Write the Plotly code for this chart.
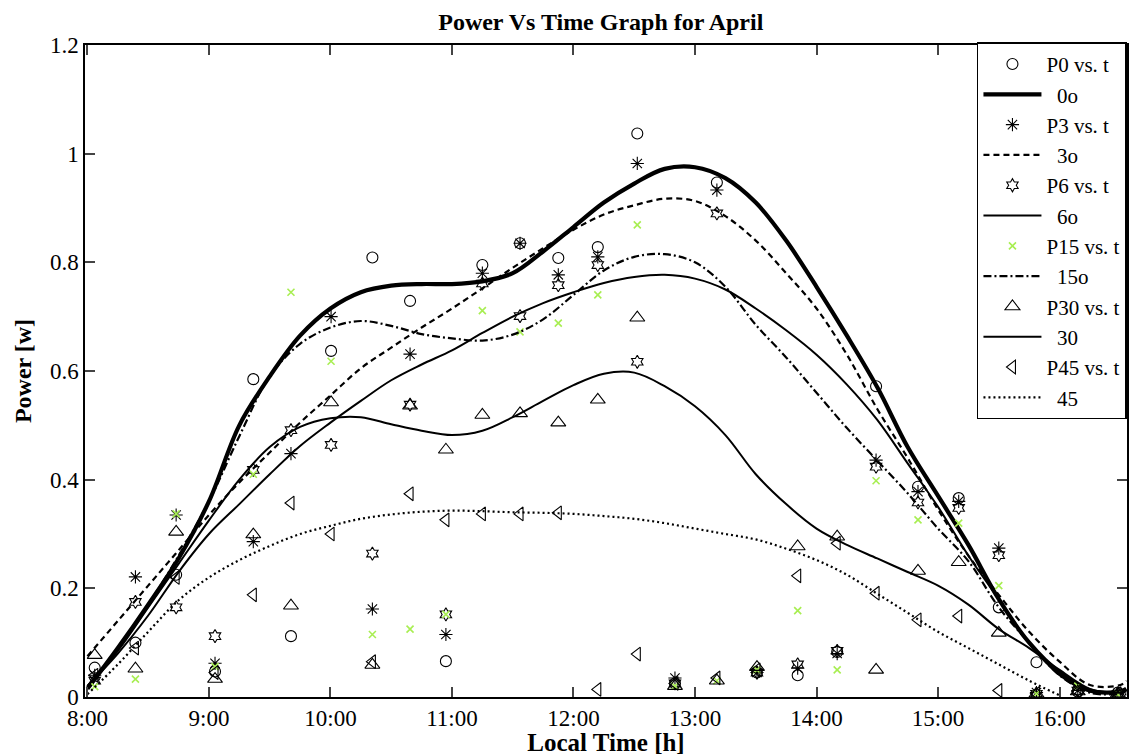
import plotly.graph_objects as go

# ---------------- data ----------------
# measurement times (decimal hours)
t = [8.06, 8.395, 8.73, 9.05, 9.365, 9.675, 10.005, 10.345, 10.655, 10.95,
     11.25, 11.56, 11.875, 12.2, 12.525, 12.835, 13.18, 13.51, 13.845, 14.17,
     14.49, 14.835, 15.17, 15.5, 15.81, 16.15, 16.48]

P0 = [0.054, 0.10, 0.225, 0.047, 0.585, 0.112, 0.637, 0.809, 0.729, 0.066,
      0.795, 0.835, 0.808, 0.828, 1.037, 0.025, 0.947, 0.045, 0.040, 0.083,
      0.572, 0.387, 0.366, 0.165, 0.064, 0.010, 0.008]
P3 = [0.040, 0.221, 0.335, 0.062, 0.286, 0.448, 0.700, 0.162, 0.631, 0.115,
      0.780, 0.835, 0.777, 0.810, 0.982, 0.035, 0.933, 0.045, 0.053, 0.080,
      0.436, 0.378, 0.360, 0.274, 0.008, 0.012, 0.006]
P6 = [0.030, 0.175, 0.165, 0.112, 0.418, 0.491, 0.464, 0.264, 0.538, 0.152,
      0.761, 0.701, 0.758, 0.795, 0.617, 0.025, 0.890, 0.045, 0.060, 0.085,
      0.424, 0.358, 0.348, 0.261, 0.006, 0.012, 0.006]
P15 = [0.019, 0.033, 0.337, 0.056, 0.410, 0.745, 0.618, 0.115, 0.125, 0.152,
       0.711, 0.672, 0.688, 0.740, 0.869, 0.020, 0.030, 0.050, 0.159, 0.050,
       0.398, 0.326, 0.320, 0.205, 0.006, 0.020, 0.005]
P30 = [0.077, 0.052, 0.304, 0.033, 0.299, 0.168, 0.542, 0.059, 0.536, 0.455,
       0.519, 0.522, 0.505, 0.547, 0.698, 0.020, 0.030, 0.055, 0.277, 0.295,
       0.050, 0.232, 0.248, 0.118, 0.006, 0.010, 0.006]
P45 = [0.040, 0.090, 0.220, 0.045, 0.188, 0.357, 0.300, 0.065, 0.374, 0.326,
       0.337, 0.337, 0.339, 0.014, 0.079, 0.025, 0.035, 0.050, 0.223, 0.283,
       0.191, 0.142, 0.149, 0.012, 0.006, 0.010, 0.006]

# fitted curves
tc = [8.0, 8.25, 8.5, 8.75, 9.0, 9.25, 9.5, 9.75, 10.0, 10.25, 10.5, 10.75,
      11.0, 11.25, 11.5, 11.75, 12.0, 12.25, 12.5, 12.75, 13.0, 13.25, 13.5,
      13.75, 14.0, 14.25, 14.5, 14.75, 15.0, 15.25, 15.5, 15.75, 16.0, 16.25,
      16.5, 16.55]
C0 = [0.015, 0.09, 0.17, 0.255, 0.36, 0.50, 0.59, 0.665, 0.715, 0.745, 0.757,
      0.76, 0.76, 0.765, 0.78, 0.82, 0.865, 0.91, 0.945, 0.972, 0.975, 0.955,
      0.91, 0.84, 0.755, 0.665, 0.57, 0.46, 0.37, 0.28, 0.18, 0.10, 0.045,
      0.012, 0.01, 0.015]
C3 = [0.075, 0.14, 0.205, 0.27, 0.335, 0.395, 0.45, 0.505, 0.555, 0.605, 0.643,
      0.68, 0.715, 0.752, 0.79, 0.826, 0.86, 0.888, 0.905, 0.917, 0.913, 0.885,
      0.84, 0.78, 0.715, 0.63, 0.53, 0.44, 0.345, 0.26, 0.188, 0.12, 0.065,
      0.022, 0.022, 0.03]
C6 = [0.02, 0.08, 0.15, 0.23, 0.30, 0.355, 0.41, 0.462, 0.505, 0.545, 0.583,
      0.612, 0.638, 0.67, 0.70, 0.725, 0.745, 0.762, 0.773, 0.777, 0.77, 0.75,
      0.715, 0.675, 0.63, 0.575, 0.51, 0.43, 0.35, 0.26, 0.18, 0.10, 0.04,
      0.01, 0.01, 0.012]
C15 = [0.02, 0.09, 0.17, 0.26, 0.36, 0.48, 0.59, 0.65, 0.68, 0.692, 0.683,
       0.668, 0.66, 0.656, 0.667, 0.695, 0.74, 0.785, 0.81, 0.815, 0.80, 0.755,
       0.685, 0.625, 0.56, 0.495, 0.435, 0.375, 0.31, 0.25, 0.165, 0.10, 0.04,
       0.008, 0.005, 0.005]
C30 = [0.02, 0.085, 0.165, 0.245, 0.325, 0.40, 0.46, 0.497, 0.513, 0.515,
       0.502, 0.49, 0.482, 0.49, 0.515, 0.545, 0.574, 0.595, 0.597, 0.572,
       0.535, 0.482, 0.41, 0.355, 0.31, 0.28, 0.255, 0.23, 0.205, 0.17, 0.125,
       0.09, 0.05, 0.015, 0.008, 0.01]
C45 = [0.005, 0.06, 0.12, 0.178, 0.22, 0.252, 0.278, 0.30, 0.315, 0.328, 0.336,
       0.341, 0.343, 0.342, 0.34, 0.339, 0.337, 0.333, 0.328, 0.32, 0.31, 0.30,
       0.29, 0.273, 0.252, 0.225, 0.19, 0.155, 0.12, 0.09, 0.06, 0.03, 0.003,
       None, None, None]

tick_vals = [8, 9, 10, 11, 12, 13, 14, 15, 16]
tick_text = ["8:00", "9:00", "10:00", "11:00", "12:00", "13:00", "14:00", "15:00", "16:00"]
y_ticks = [0, 0.2, 0.4, 0.6, 0.8, 1.0, 1.2]
y_text = ["0", "0.2", "0.4", "0.6", "0.8", "1", "1.2"]

GREEN = "#a8ee52"
NB = "\u00a0\u00a0"

fig = go.Figure()

def pts(name, y, symbol, size, color="black", width=1.1):
    fig.add_trace(go.Scatter(
        x=t, y=y, mode="markers", name=name, legendgroup=name,
        marker=dict(symbol=symbol, size=size, color=color,
                    line=dict(color=color, width=width))))

def curve(name, y, dash, width):
    fig.add_trace(go.Scatter(
        x=tc, y=y, mode="lines", name=name, legendgroup=name,
        line=dict(color="black", width=width, dash=dash, shape="spline", smoothing=1.0)))

pts("P0 vs. t", P0, "circle-open", 11)
curve(NB + "0o", C0, "solid", 4.2)
pts("P3 vs. t", P3, "asterisk-open", 11)
curve(NB + "3o", C3, "6px,4px", 2.2)
pts("P6 vs. t", P6, "hexagram-open", 10)
curve(NB + "6o", C6, "solid", 2)
pts("P15 vs. t", P15, "x-thin-open", 7, color=GREEN, width=1.6)
curve(NB + "15o", C15, "8px,3px,2px,3px", 2.2)
pts("P30 vs. t", P30, "triangle-up-open", 13)
curve(NB + "30", C30, "solid", 2)
pts("P45 vs. t", P45, "triangle-left-open", 12)
curve(NB + "45", C45, "2px,3px", 2.2)

fig.update_layout(
    width=1139, height=756,
    margin=dict(l=85, r=12, t=45, b=59, autoexpand=False),
    plot_bgcolor="white", paper_bgcolor="white",
    font=dict(family="Liberation Serif", size=23, color="black"),
    title=dict(text="<b>Power Vs Time Graph for April</b>", x=0.495, xref="paper",
               xanchor="center", y=1 - 22 / 756, yref="container", yanchor="middle",
               font=dict(size=24)),
    legend=dict(x=0.856, y=1.004, xanchor="left", yanchor="top",
                bgcolor="white", bordercolor="black", borderwidth=1.5,
                font=dict(size=21, family="Liberation Serif"),
                tracegroupgap=0, traceorder="normal", itemwidth=58, maxheight=600),
    showlegend=True,
)
fig.update_xaxes(range=[7.98, 16.555], tickvals=tick_vals, ticktext=tick_text,
                 ticks="inside", ticklen=10, tickwidth=1.5, showline=True,
                 linecolor="black", linewidth=1.5, mirror="ticks", showgrid=False,
                 zeroline=False, tickfont=dict(size=23),
                 title=dict(text="<b>Local Time [h]</b>", font=dict(size=25), standoff=2))
fig.update_yaxes(range=[0, 1.2], tickvals=y_ticks, ticktext=y_text,
                 ticks="inside", ticklen=10, tickwidth=1.5, showline=True,
                 linecolor="black", linewidth=1.5, mirror="ticks", showgrid=False,
                 zeroline=False, tickfont=dict(size=23),
                 title=dict(text="<b>Power [w]</b>", font=dict(size=24), standoff=12))

fig.write_html("out.html")
